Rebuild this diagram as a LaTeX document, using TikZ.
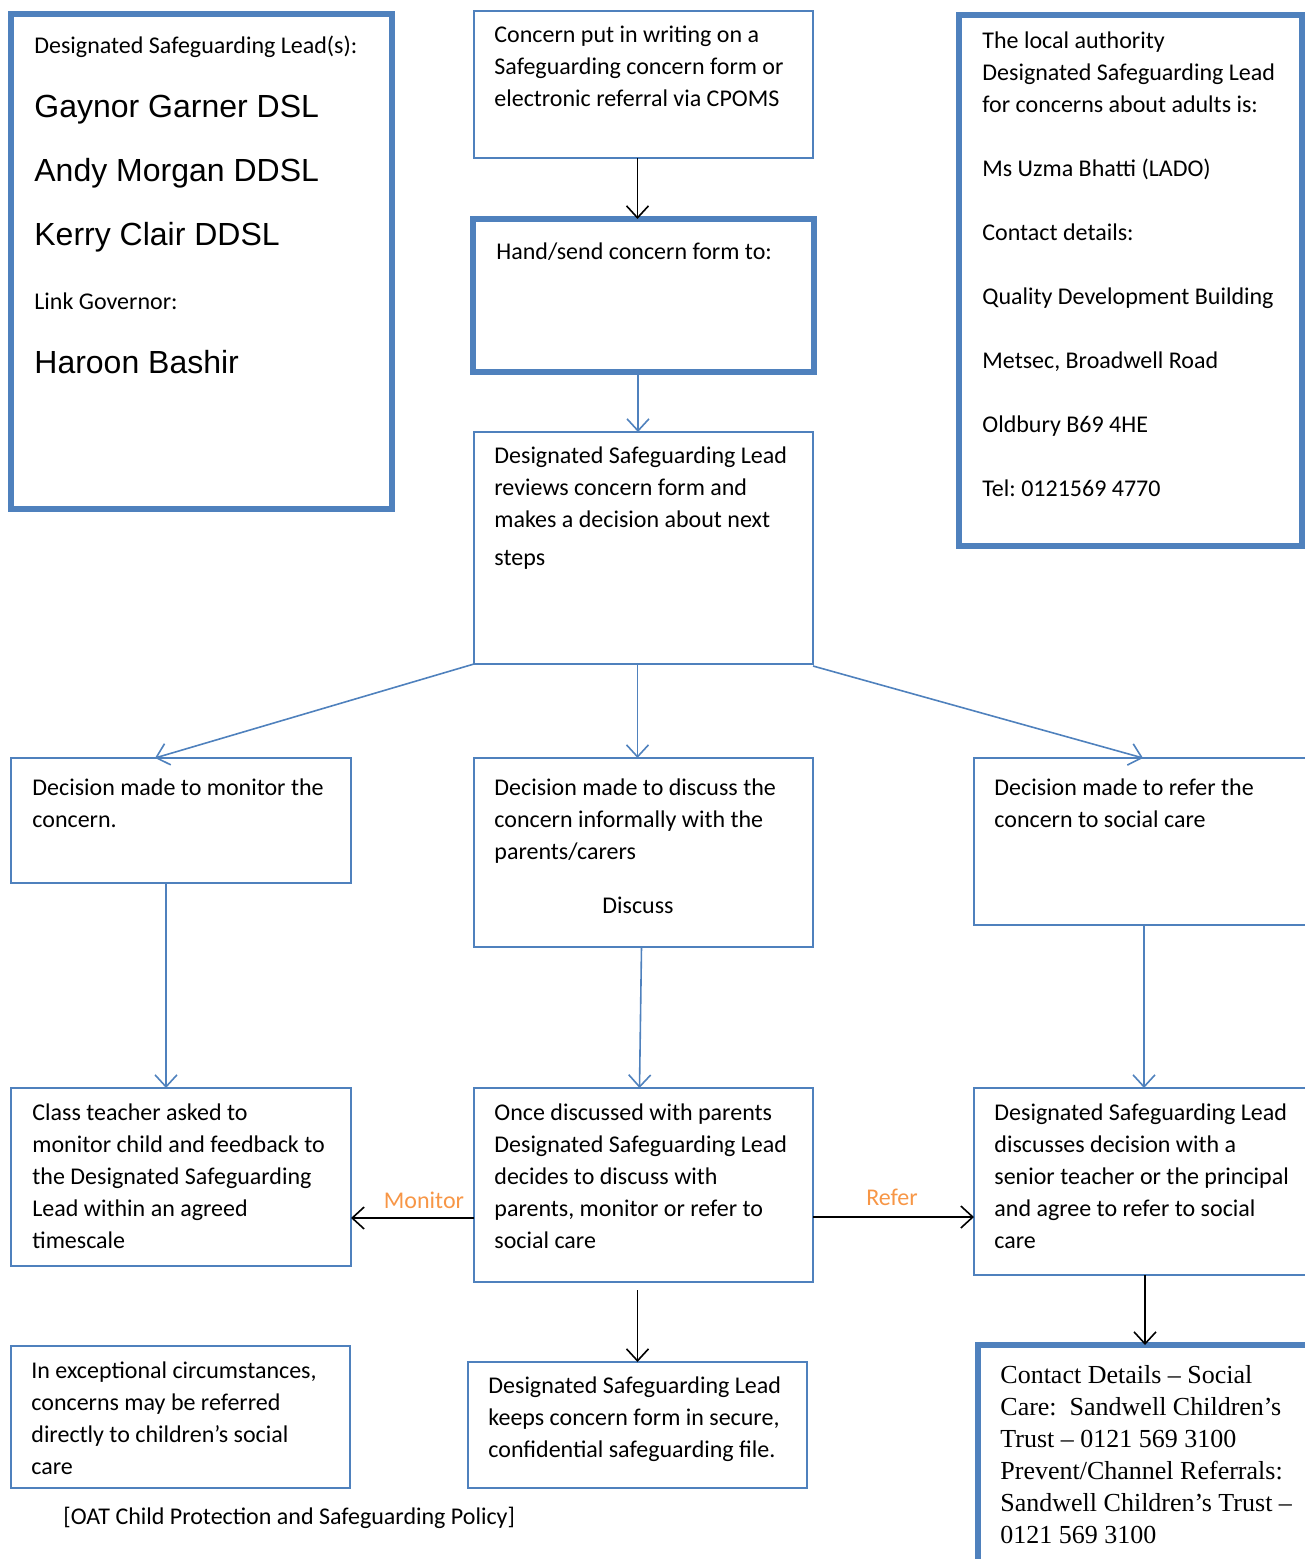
\documentclass[tikz,border=0pt]{standalone}
\usepackage{fontspec}
\setmainfont{Carlito}
\newfontfamily\arialf{Liberation Sans}
\newfontfamily\cambf{Liberation Serif}
\usetikzlibrary{arrows.meta}
\definecolor{ob}{HTML}{4F81BD}
\definecolor{oo}{HTML}{F79646}
\frenchspacing
\newcommand\mybox[6]{%
  \node[#1, anchor=north west, minimum width={(#5-#3)*0.5pt}, minimum height={(#6-#4)*0.5pt}] (#2) at (#3,#4) {};}
\newcommand\fl{\rule{0pt}{12pt}}
\begin{document}
\begin{tikzpicture}[x=0.5pt,y=-0.5pt,
  thinbox/.style={draw=ob, line width=0.8pt, inner sep=0pt, outer sep=0pt, rectangle},
  thickbox/.style={draw=ob, line width=2.6pt, inner sep=0pt, outer sep=0pt, rectangle},
  txt/.style={anchor=north west, inner sep=0pt, align=left, font=\fontsize{12}{16}\selectfont},
  barrow/.style={draw=black, line width=0.8pt, -{Straight Barb[length=6pt,width=11pt]}},
  blarrow/.style={draw=ob, line width=0.8pt, -{Straight Barb[length=6pt,width=11pt]}},
  lbl/.style={text=oo, font=\fontsize{12}{14}\selectfont, inner sep=0pt, anchor=base}
]
\useasboundingbox (0,0) rectangle (1305,1559);
\clip (0,0) rectangle (1305,1559);

% boxes
\mybox{thickbox}{A}{11}{14}{392}{509}
\mybox{thinbox}{B}{474}{11}{813}{158}
\mybox{thickbox}{C}{473}{219}{814}{372}
\mybox{thickbox}{D}{959}{15}{1302}{546}
\mybox{thinbox}{E}{474}{432}{813}{664}
\mybox{thinbox}{F}{11}{758}{351}{883}
\mybox{thinbox}{G}{474}{758}{813}{947}
\mybox{thinbox}{H}{974}{758}{1320}{925}
\mybox{thinbox}{I}{11}{1088}{351}{1266}
\mybox{thinbox}{J}{474}{1088}{813}{1282}
\mybox{thinbox}{K}{974}{1088}{1320}{1275}
\mybox{thinbox}{L}{11}{1346}{350}{1488}
\mybox{thinbox}{M}{468}{1362}{807}{1488}
\mybox{thickbox}{N}{978}{1345}{1320}{1580}

% texts
\node[txt, font=\fontsize{12}{32}\selectfont] (At) at (34,29) {\fl Designated Safeguarding Lead(s):\\
{\arialf\fontsize{16}{32}\selectfont Gaynor Garner DSL}\\
{\arialf\fontsize{16}{32}\selectfont Andy Morgan DDSL}\\
{\arialf\fontsize{16}{32}\selectfont Kerry Clair DDSL}\\
Link Governor:\\
{\arialf\fontsize{16}{32}\selectfont Haroon Bashir}};

\node[txt] (Bt) at (494,18) {\fl Concern put in writing on a\\Safeguarding concern form or\\electronic referral via CPOMS};
\node[txt] (Ct) at (496,235) {\fl Hand/send concern form to:};
\node[txt] (Dt) at (982,24) {\fl The local authority\\Designated Safeguarding Lead\\for concerns about adults is:\\[16pt]
Ms Uzma Bhatti (LADO)\\[16pt]
Contact details:\\[16pt]
Quality Development Building\\[16pt]
Metsec, Broadwell Road\\[16pt]
Oldbury B69 4HE\\[16pt]
Tel: 0121569 4770};
\node[txt] (Et) at (494,439) {\fl Designated Safeguarding Lead\\reviews concern form and\\makes a decision about next\\[3pt]steps};
\node[txt] (Ft) at (32,771) {\fl Decision made to monitor the\\concern.};
\node[txt] (Gt) at (494,771) {\fl Decision made to discuss the\\concern informally with the\\parents/carers};
\node[txt, anchor=base] (Gd) at (638,913) {Discuss};
\node[txt] (Ht) at (994,771) {\fl Decision made to refer the\\concern to social care};
\node[txt] (It) at (32,1096) {\fl Class teacher asked to\\monitor child and feedback to\\the Designated Safeguarding\\Lead within an agreed\\timescale};
\node[txt] (Jt) at (494,1096) {\fl Once discussed with parents\\Designated Safeguarding Lead\\decides to discuss with\\parents, monitor or refer to\\social care};
\node[txt] (Kt) at (994,1096) {\fl Designated Safeguarding Lead\\discusses decision with a\\senior teacher or the principal\\and agree to refer to social\\care};
\node[txt] (Lt) at (31,1354) {\fl In exceptional circumstances,\\concerns may be referred\\directly to children’s social\\care};
\node[txt] (Mt) at (488,1369) {\fl Designated Safeguarding Lead\\keeps concern form in secure,\\confidential safeguarding file.};
\node[txt, font=\cambf\fontsize{13}{16}\selectfont] (Nt) at (1000,1359) {\fl Contact Details – Social\\Care:\ \ Sandwell Children’s\\Trust – 0121 569 3100\\Prevent/Channel Referrals:\\Sandwell Children’s Trust –\\0121 569 3100};
\node[txt] (Ft2) at (63,1500) {\fl [OAT Child Protection and Safeguarding Policy]};

% connectors
\draw[barrow] ([xshift=-3pt]B.south) -- ([xshift=-3pt]C.north);
\draw[blarrow] ([xshift=-2.75pt]C.south) -- ([xshift=-2.75pt]E.north);
\draw[blarrow] (E.south west) -- ([xshift=-13pt]F.north);
\draw[blarrow] ([xshift=-3pt]E.south) -- ([xshift=-3pt]G.north);
\draw[blarrow] ([yshift=-1pt]E.south east) -- ([xshift=84.5pt]H.north west);
\draw[blarrow] ([xshift=-7.5pt]F.south) -- ([xshift=-7.5pt]I.north);
\draw[blarrow] ([xshift=-1pt]G.south) -- ([xshift=-2pt]J.north);
\coordinate (hs) at ([xshift=85pt]H.south west);
\draw[blarrow] (hs) -- (hs |- K.north);
\coordinate (jm) at ([yshift=-16.5pt]J.west);
\draw[barrow] (jm) -- (jm -| I.east);
\coordinate (jr) at ([yshift=-16pt]J.east);
\draw[barrow] (jr) -- (jr -| K.west);
\path (J.south -| M.north) coordinate (jb0);
\draw[barrow] ([yshift=-4pt]jb0) -- (M.north);
\coordinate (ks) at ([xshift=85.5pt]K.south west);
\draw[barrow] (ks) -- (ks |- N.north);

% labels
\node[lbl] (mon) at (424,1208) {Monitor};
\node[lbl] (ref) at (892,1205) {Refer};
\end{tikzpicture}
\end{document}
